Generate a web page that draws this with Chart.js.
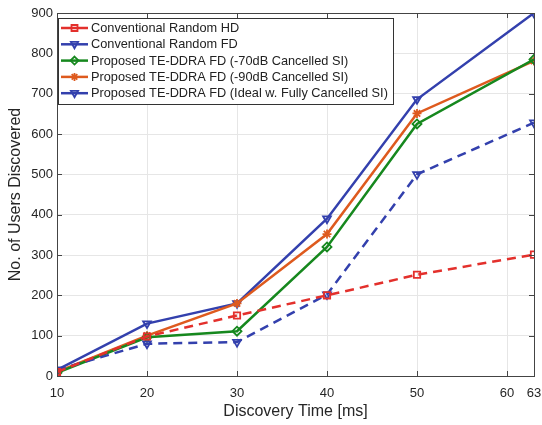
<!DOCTYPE html>
<html>
<head>
<meta charset="utf-8">
<script src="https://cdn.jsdelivr.net/npm/chart.js@4"></script>
<style>
  body { margin: 0; background: #fff; }
  #wrap { width: 542px; height: 425px; }
</style>
</head>
<body>
<div id="wrap"><canvas id="chart" width="542" height="425"></canvas></div>
<script>
// Discovery time in ms (x values)
const times = [10, 20, 30, 40, 50, 63];
const xTicks = [10, 20, 30, 40, 50, 60, 63];

// Users discovered per scheme
const randomHD = [10, 98, 150, 200, 251, 301];
const randomFD = [15, 80, 84, 202, 500, 628];
const ddra70 = [8, 96, 111, 320, 625, 785];
const ddra90 = [10, 100, 180, 352, 651, 781];
const ddraIdeal = [15, 130, 180, 390, 686, 900];

const labels = [
    'Conventional Random HD',
    'Conventional Random FD',
    'Proposed TE-DDRA FD (-70dB Cancelled SI)',
    'Proposed TE-DDRA FD (-90dB Cancelled SI)',
    'Proposed TE-DDRA FD (Ideal w. Fully Cancelled SI)'
];

const RED = '#e3302c';
const BLUE = '#3340ad';
const GREEN = '#16881e';
const ORANGE = '#de5a1e';

function pts(ys) {
    return times.map((t, i) => ({ x: t, y: ys[i] }));
}

function series(label, ys, color, style, dashed, rot) {
    return {
        label,
        data: pts(ys),
        borderColor: color,
        backgroundColor: 'rgba(0,0,0,0)',
        borderWidth: 2.5,
        borderDash: dashed ? [9, 6] : [],
        pointStyle: style,
        pointRotation: rot || 0,
        pointRadius: 4.5,
        pointBorderWidth: 1.8,
        pointBorderColor: color,
        pointBackgroundColor: 'rgba(0,0,0,0)',
        tension: 0
    };
}

const datasets = [
    series(labels[0], randomHD, RED, 'rect', true),
    series(labels[1], randomFD, BLUE, 'triangle', true, 180),
    series(labels[2], ddra70, GREEN, 'rectRot', false),
    series(labels[3], ddra90, ORANGE, 'star', false),
    series(labels[4], ddraIdeal, BLUE, 'triangle', false, 180)
];

// Draw the marker shape used in the legend
function marker(ctx, style, x, y, r, rot) {
    ctx.beginPath();
    if (style === 'rect') {
        ctx.rect(x - r * 0.75, y - r * 0.75, r * 1.5, r * 1.5);
    } else if (style === 'rectRot') {
        ctx.moveTo(x, y - r); ctx.lineTo(x + r, y); ctx.lineTo(x, y + r); ctx.lineTo(x - r, y); ctx.closePath();
    } else if (style === 'triangle') {
        const s = rot ? -1 : 1;
        ctx.moveTo(x, y - s * r); ctx.lineTo(x + r * 0.9, y + s * r * 0.6); ctx.lineTo(x - r * 0.9, y + s * r * 0.6); ctx.closePath();
    } else if (style === 'star') {
        for (let a = 0; a < 4; a++) {
            const ang = a * Math.PI / 4;
            ctx.moveTo(x - Math.cos(ang) * r, y - Math.sin(ang) * r);
            ctx.lineTo(x + Math.cos(ang) * r, y + Math.sin(ang) * r);
        }
    }
    ctx.stroke();
}

// Box around plot, inward ticks and legend inside the axes, MATLAB style
const frameLegend = {
    id: 'frameLegend',
    afterDatasetsDraw(chart) {
        const { ctx, chartArea: a } = chart;
        const xs = chart.scales.x, ys = chart.scales.y;
        ctx.save();
        ctx.strokeStyle = '#444';
        ctx.lineWidth = 1;
        ctx.strokeRect(a.left + 0.5, a.top + 0.5, a.right - a.left, a.bottom - a.top);

        // inward tick marks on all four sides
        const tl = 5;
        ctx.beginPath();
        xs.ticks.forEach(t => {
            const px = Math.round(xs.getPixelForValue(t.value)) + 0.5;
            ctx.moveTo(px, a.bottom); ctx.lineTo(px, a.bottom - tl);
            ctx.moveTo(px, a.top); ctx.lineTo(px, a.top + tl);
        });
        ys.ticks.forEach(t => {
            const py = Math.round(ys.getPixelForValue(t.value)) + 0.5;
            ctx.moveTo(a.left, py); ctx.lineTo(a.left + tl, py);
            ctx.moveTo(a.right, py); ctx.lineTo(a.right - tl, py);
        });
        ctx.stroke();

        const lx = 58, ly = 18, lw = 335, lh = 86;
        ctx.fillStyle = '#fff';
        ctx.fillRect(lx, ly, lw, lh);
        ctx.strokeStyle = '#333';
        ctx.strokeRect(lx + 0.5, ly + 0.5, lw, lh);

        ctx.font = '12.75px "Liberation Sans", Arial, sans-serif';
        ctx.textBaseline = 'middle';
        chart.data.datasets.forEach((ds, i) => {
            const y = 28 + i * 16.3;
            ctx.strokeStyle = ds.borderColor;
            ctx.lineWidth = 2.5;
            ctx.setLineDash([]);
            ctx.beginPath();
            ctx.moveTo(61, y);
            ctx.lineTo(88, y);
            ctx.stroke();
            ctx.lineWidth = 1.8;
            marker(ctx, ds.pointStyle, 74.5, y, 4, ds.pointRotation);
            ctx.fillStyle = '#222';
            ctx.fillText(ds.label, 91, y + 0.5);
        });
        ctx.restore();
    }
};

const tickFont = { family: '"Liberation Sans", Arial, sans-serif', size: 13 };

new Chart(document.getElementById('chart'), {
    type: 'line',
    data: { datasets },
    options: {
        responsive: false,
        animation: false,
        layout: { padding: { top: 13, right: 8, left: 0, bottom: 0 } },
        plugins: { legend: { display: false }, tooltip: { enabled: false } },
        scales: {
            x: {
                type: 'linear',
                min: 10,
                max: 63,
                afterBuildTicks: s => { s.ticks = xTicks.map(v => ({ value: v })); },
                afterFit: s => { s.height = 49; s.paddingLeft = 0; s.paddingRight = 0; },
                grid: { color: '#e6e6e6', drawTicks: false },
                border: { color: '#444' },
                ticks: { color: '#262626', font: tickFont, padding: 10, maxRotation: 0 },
                title: {
                    display: true,
                    text: 'Discovery Time [ms]',
                    color: '#262626',
                    font: { family: tickFont.family, size: 16 },
                    padding: { top: 2, bottom: 4 }
                }
            },
            y: {
                min: 0,
                max: 900,
                afterFit: s => { s.width = 57; s.paddingTop = 0; s.paddingBottom = 0; },
                grid: { color: '#e6e6e6', drawTicks: false },
                border: { color: '#444' },
                ticks: { stepSize: 100, color: '#262626', font: tickFont, padding: 4 },
                title: {
                    display: true,
                    text: 'No. of Users Discovered',
                    color: '#262626',
                    font: { family: tickFont.family, size: 16 },
                    padding: { top: 5.5, bottom: 2 }
                }
            }
        }
    },
    plugins: [frameLegend]
});
</script>
</body>
</html>
